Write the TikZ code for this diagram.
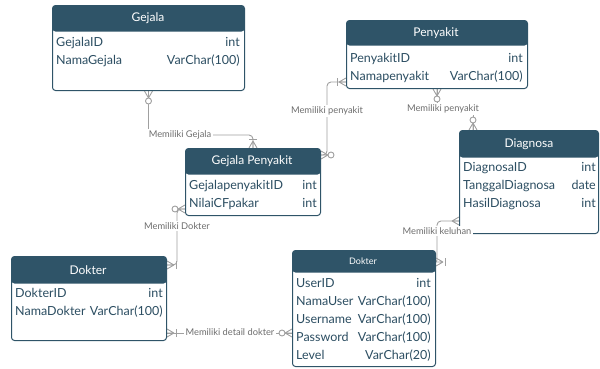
\documentclass[tikz,border=0pt]{standalone}
\usepackage{fontspec}
\setmainfont{Lato}
\usetikzlibrary{calc,backgrounds}
\definecolor{hdrcol}{RGB}{47,84,104}
\definecolor{fldcol}{RGB}{44,78,98}
\definecolor{conncol}{RGB}{160,160,160}
\definecolor{lblcol}{RGB}{110,110,110}

\tikzset{
  hh/.store in=\hh, hh=26pt,
  tbl/.style={draw=hdrcol, fill=white, line width=1pt, rounded corners=3pt,
    anchor=north west, inner sep=0pt,
    path picture={\fill[hdrcol] (path picture bounding box.north west) rectangle ([yshift=-\hh]path picture bounding box.north east);}},
  ttl/.style={text=white, font=\fontsize{12}{14}\selectfont, inner sep=1pt},
  fld/.style={text=fldcol, font=\fontsize{12.5}{15}\selectfont, inner sep=0pt, text height=9.5pt, text depth=2.5pt},
  conn/.style={draw=conncol, line width=0.9pt},
  lbl/.style={text=lblcol, fill=white, font=\fontsize{9.3}{11}\selectfont, inner sep=1.5pt},
  many/.pic={\draw[conn] (-7,0) -- (0,-4) (-7,0) -- (0,0) (-7,0) -- (0,4);},
  zmany/.pic={\draw[conn] (-7,0) -- (0,-4) (-7,0) -- (0,0) (-7,0) -- (0,4);
    \draw[conn, fill=white] (-10,0) circle (3pt);},
  omany/.pic={\draw[conn] (-7,0) -- (0,-4) (-7,0) -- (0,0) (-7,0) -- (0,4);
    \draw[conn] (-9,-4) -- (-9,4);}
}

\begin{document}
\begin{tikzpicture}[x=1pt,y=-1pt]
\useasboundingbox (0,0) rectangle (600,368);

% tables
\node[tbl, hh=26pt, minimum width=192pt, minimum height=85pt]  (gejala) at (52,5)    {};
\node[tbl, hh=25pt, minimum width=181pt, minimum height=68pt]  (pen)    at (346,20)  {};
\node[tbl, hh=27pt, minimum width=139pt, minimum height=103pt] (diag)   at (459,130) {};
\node[tbl, hh=26pt, minimum width=135pt, minimum height=67pt]  (gp)     at (185,148) {};
\node[tbl, hh=27pt, minimum width=155pt, minimum height=84pt]  (dokL)   at (11,256)  {};
\node[tbl, hh=22pt, minimum width=143pt, minimum height=116pt] (dokU)   at (292,250) {};

\node[ttl] (gejalaH) at (148,18)   {Gejala};
\node[ttl] (penH)    at (436,33)   {Penyakit};
\node[ttl] (diagH)   at (529,144)  {Diagnosa};
\node[ttl] (gpH)     at (252,161)  {Gejala Penyakit};
\node[ttl] (dokLH)   at (88,270)   {Dokter};
\node[ttl, font=\fontsize{9}{10}\selectfont] (dokUH) at (363,261) {Dokter};

\foreach \f/\t [count=\i] in {GejalaID/int,NamaGejala/VarChar(100)}{
  \node[fld, anchor=west] (gejalaF\i) at (56,{25+18*\i})  {\f};
  \node[fld, anchor=east] (gejalaT\i) at (240,{25+18*\i}) {\t};
}
\foreach \f/\t [count=\i] in {PenyakitID/int,Namapenyakit/VarChar(100)}{
  \node[fld, anchor=west] (penF\i) at (350,{41+18*\i}) {\f};
  \node[fld, anchor=east] (penT\i) at (523,{41+18*\i}) {\t};
}
\foreach \f/\t [count=\i] in {DiagnosaID/int,TanggalDiagnosa/date,HasilDiagnosa/int}{
  \node[fld, anchor=west] (diagF\i) at (463,{150+18*\i}) {\f};
  \node[fld, anchor=east] (diagT\i) at (596,{150+18*\i}) {\t};
}
\foreach \f/\t [count=\i] in {GejalapenyakitID/int,NilaiCFpakar/int}{
  \node[fld, anchor=west] (gpF\i) at (189,{168+18*\i}) {\f};
  \node[fld, anchor=east] (gpT\i) at (317,{168+18*\i}) {\t};
}
\foreach \f/\t [count=\i] in {DokterID/int,NamaDokter/VarChar(100)}{
  \node[fld, anchor=west] (dokLF\i) at (15,{276+18*\i})  {\f};
  \node[fld, anchor=east] (dokLT\i) at (163,{276+18*\i}) {\t};
}
\foreach \f/\t [count=\i] in {UserID/int,NamaUser/VarChar(100),Username/VarChar(100),Password/VarChar(100),Level/VarChar(20)}{
  \node[fld, anchor=west] (dokUF\i) at (296,{266+18*\i}) {\f};
  \node[fld, anchor=east] (dokUT\i) at (431,{266+18*\i}) {\t};
}

% relation labels
\node[lbl] (lblG)  at (180,135) {Memiliki Gejala};
\node[lbl] (lblP1) at (327,111) {Memiliki penyakit};
\node[lbl] (lblP2) at (443,109) {Memiliki penyakit};
\node[lbl] (lblD)  at (177,226) {Memiliki Dokter};
\node[lbl] (lblDD) at (230,332) {Memiliki detail dokter};
\node[lbl] (lblK)  at (437,231) {Memiliki keluhan};

% connectors
\begin{scope}[on background layer]
\coordinate (gpR)   at ([yshift=-7pt]gp.north east);
\coordinate (penL)  at ([yshift=7pt]pen.south west);
\coordinate (diagT) at ([xshift=14pt]diag.north west);
\coordinate (gpL)   at ([yshift=7pt]gp.south west);
\coordinate (dokLR) at ([yshift=-9pt]dokL.north east);
\coordinate (dokLB) at ([yshift=8pt]dokL.south east);
\coordinate (diagL) at ([yshift=13pt]diag.south west);
\coordinate (dokUR) at ([yshift=-12pt]dokU.north east);

\draw[conn] (gejala.south) -- (gejala.south |- lblG.north);
\draw[conn, rounded corners=4pt] (lblG.east) -| (gp.north);
\draw[conn, rounded corners=4pt] (gpR) -| (lblP1.south);
\draw[conn, rounded corners=4pt] (lblP1.north) |- (penL);
\draw[conn] (pen.south) |- (lblP2.center) -| (diagT);
\draw[conn, rounded corners=4pt] (gpL) -| (lblD.north);
\draw[conn, rounded corners=4pt] (lblD.south) |- (dokLR);
\draw[conn] (dokLB) -- (dokLB -| dokU.west);
\draw[conn, rounded corners=4pt] (diagL) -| (lblK.north);
\draw[conn, rounded corners=2pt] (lblK.south) |- (dokUR);

\pic[rotate=90]  at (gejala.south) {zmany};
\pic[rotate=-90] at (gp.north)     {omany};
\pic[rotate=180] at (gpR)          {zmany};
\pic             at (penL)         {omany};
\pic[rotate=90]  at (pen.south)    {zmany};
\pic[rotate=-90] at (diagT)        {zmany};
\pic             at (gpL)          {zmany};
\pic[rotate=180] at (dokLR)        {omany};
\pic[rotate=180] at (dokLB)        {omany};
\pic             at (dokLB -| dokU.west) {zmany};
\pic             at (diagL)        {many};
\pic[rotate=180] at (dokUR)        {omany};
\end{scope}
\end{tikzpicture}
\end{document}
